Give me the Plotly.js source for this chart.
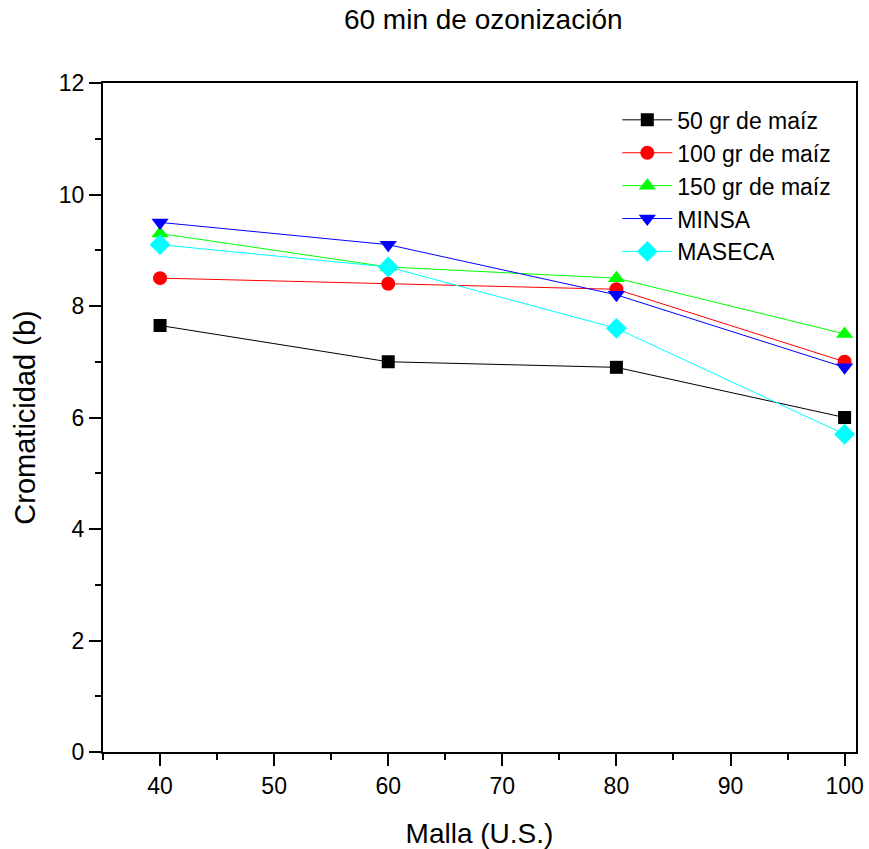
<!DOCTYPE html>
<html><head><meta charset="utf-8">
<script src="https://cdn.plot.ly/plotly-3.0.1.min.js"></script>
<style>body{margin:0;background:#fff}#c{width:869px;height:849px}</style>
</head><body><div id="c"></div>
<script>
const malla = [40, 60, 80, 100];
const names = ["50 gr de maíz", "100 gr de maíz", "150 gr de maíz", "MINSA", "MASECA"];
const s50 = [7.65, 7.0, 6.9, 6.0];
const s100 = [8.5, 8.4, 8.3, 7.0];
const s150 = [9.3, 8.7, 8.5, 7.5];
const minsa = [9.5, 9.1, 8.2, 6.9];
const maseca = [9.1, 8.7, 7.6, 5.7];
const series = [s50, s100, s150, minsa, maseca];
const colors = ["#000000", "#ff0000", "#00ff00", "#0000ff", "#00ffff"];
const symbols = ["square", "circle", "triangle-up", "triangle-down", "diamond"];
const sizes = [13, 14, 15, 15, 16];
const traces = series.map((s, i) => ({
  x: malla, y: s, name: names[i], type: "scatter", mode: "lines+markers",
  line: {color: colors[i], width: 1},
  marker: {color: colors[i], symbol: symbols[i], size: sizes[i]}
}));
const layout = {
  width: 869, height: 849,
  margin: {l: 103, r: 13, t: 83, b: 97},
  paper_bgcolor: "#fff", plot_bgcolor: "#fff",
  font: {family: "Liberation Sans, Arial, sans-serif", color: "#000", size: 23},
  title: {text: "60 min de ozonización", font: {size: 28}, xref: "paper", x: 0.505, xanchor: "center", y: 0.977, yanchor: "middle"},
  showlegend: true,
  legend: {x: 0.683, y: 0.977, xanchor: "left", yanchor: "top", bgcolor: "rgba(0,0,0,0)", font: {size: 23}, tracegroupgap: 0, itemwidth: 50},
  xaxis: {
    range: [35, 101], tickvals: [40, 50, 60, 70, 80, 90, 100], showgrid: false, zeroline: false,
    showline: true, linecolor: "#000", linewidth: 2, mirror: true,
    ticks: "outside", ticklen: 12, tickwidth: 2, tickcolor: "#000",
    tickfont: {size: 23},
    minor: {dtick: 5, tick0: 35, ticks: "outside", ticklen: 6, tickwidth: 2, tickcolor: "#000"},
    title: {text: "Malla (U.S.)", font: {size: 28}, standoff: 26}
  },
  yaxis: {
    range: [0, 12], dtick: 2, showgrid: false, zeroline: false,
    showline: true, linecolor: "#000", linewidth: 2, mirror: true,
    ticks: "outside", ticklen: 12, tickwidth: 2, tickcolor: "#000",
    tickfont: {size: 23},
    minor: {dtick: 1, ticks: "outside", ticklen: 6, tickwidth: 2, tickcolor: "#000"},
    title: {text: "Cromaticidad (b)", font: {size: 29}, standoff: 15}
  }
};
Plotly.newPlot("c", traces, layout, {displayModeBar: false});
</script></body></html>
